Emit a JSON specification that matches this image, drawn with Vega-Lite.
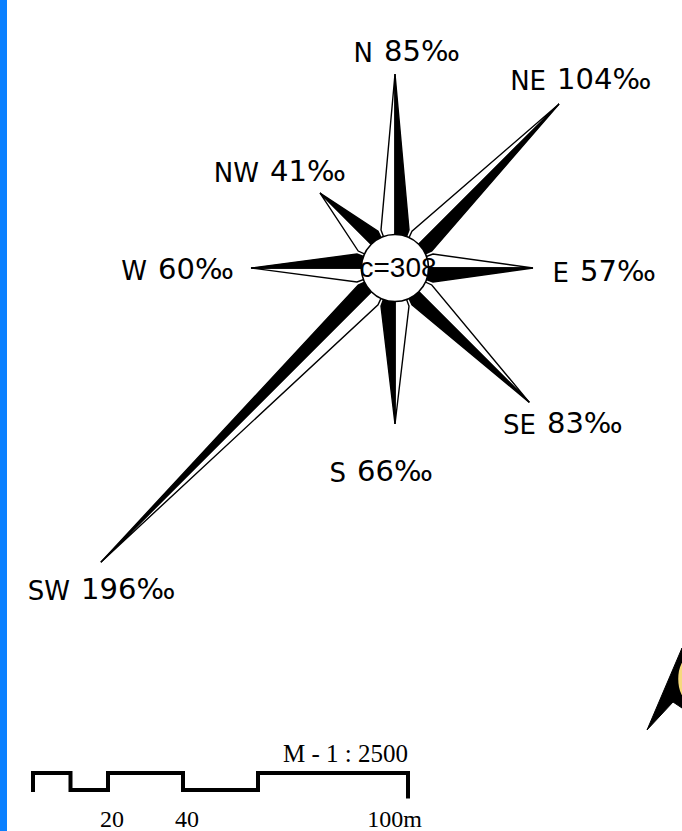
{
  "$schema": "https://vega.github.io/schema/vega-lite/v6.json",
  "width": 675,
  "height": 831,
  "autosize": {"type": "none"},
  "padding": {"left": 7, "top": 0, "right": 0, "bottom": 0},
  "background": "#0a80ff",
  "config": {"view": {"stroke": null, "fill": "white"}},
  "datasets": {
    "rose": [
      {"dir": "N", "angle": 0, "value": 85},
      {"dir": "NE", "angle": 45, "value": 104},
      {"dir": "E", "angle": 90, "value": 57},
      {"dir": "SE", "angle": 135, "value": 83},
      {"dir": "S", "angle": 180, "value": 66},
      {"dir": "SW", "angle": 225, "value": 196},
      {"dir": "W", "angle": 270, "value": 60},
      {"dir": "NW", "angle": 315, "value": 41}
    ],
    "center": [{"count": 308}],
    "arrow": [
      {"i": 0, "x": 126, "y": -231},
      {"i": 1, "x": 143.5, "y": -190},
      {"i": 2, "x": 143.5, "y": -220},
      {"i": 3, "x": 139, "y": -217}
    ],
    "bar": [
      {"i": 0, "m": 0, "h": -0.12},
      {"i": 1, "m": 0, "h": 1},
      {"i": 2, "m": 10, "h": 1},
      {"i": 3, "m": 10, "h": 0},
      {"i": 4, "m": 20, "h": 0},
      {"i": 5, "m": 20, "h": 1},
      {"i": 6, "m": 40, "h": 1},
      {"i": 7, "m": 40, "h": 0},
      {"i": 8, "m": 60, "h": 0},
      {"i": 9, "m": 60, "h": 1},
      {"i": 10, "m": 100, "h": 1},
      {"i": 11, "m": 100, "h": -0.5}
    ],
    "ticks": [
      {"m": 20, "t": "20"},
      {"m": 40, "t": "40"}
    ]
  },
  "layer": [
    {
      "layer": [
        {
          "data": {"name": "rose"},
          "transform": [
            {"calculate": "datum.angle*PI/180", "as": "a"},
            {"calculate": "datum.value+12", "as": "r"},
            {"calculate": "[{k:0,s:1},{k:1,s:1},{k:2,s:1},{k:0,s:-1},{k:1,s:-1},{k:2,s:-1}]", "as": "pts"},
            {"flatten": ["pts"]},
            {"calculate": "datum.pts.k", "as": "k"},
            {"calculate": "datum.pts.s", "as": "s"},
            {"calculate": "datum.k==0 ? datum.r*sin(datum.a) : (datum.k==1 ? 19*sin(datum.a)+datum.s*7*cos(datum.a) : 0)", "as": "px"},
            {"calculate": "datum.k==0 ? datum.r*cos(datum.a) : (datum.k==1 ? 19*cos(datum.a)-datum.s*7*sin(datum.a) : 0)", "as": "py"},
            {"calculate": "datum.dir+'_'+datum.s", "as": "grp"}
          ],
          "layer": [
            {
              "transform": [{"filter": "datum.s == -1"}],
              "mark": {"type": "line", "interpolate": "linear-closed", "fill": "white", "stroke": "black", "strokeWidth": 1.4},
              "encoding": {
                "x": {"field": "px", "type": "quantitative", "scale": {"domain": [-194, 143.5], "nice": false, "zero": false}, "axis": null},
                "y": {"field": "py", "type": "quantitative", "scale": {"domain": [-281.5, 134], "nice": false, "zero": false}, "axis": null},
                "detail": {"field": "grp"},
                "order": {"field": "k"}
              }
            },
            {
              "transform": [{"filter": "datum.s == 1"}],
              "mark": {"type": "line", "interpolate": "linear-closed", "fill": "black", "stroke": "black", "strokeWidth": 1.4},
              "encoding": {
                "x": {"field": "px", "type": "quantitative", "scale": {"domain": [-194, 143.5], "nice": false, "zero": false}, "axis": null},
                "y": {"field": "py", "type": "quantitative", "scale": {"domain": [-281.5, 134], "nice": false, "zero": false}, "axis": null},
                "detail": {"field": "grp"},
                "order": {"field": "k"}
              }
            }
          ]
        },
        {
          "data": {"name": "center"},
          "transform": [{"calculate": "'c=' + datum.count", "as": "label"}],
          "layer": [
            {
              "mark": {"type": "point", "shape": "circle", "size": 4500, "filled": true, "fill": "white", "stroke": "black", "strokeWidth": 1.6, "opacity": 1},
              "encoding": {
                "x": {"datum": 0, "type": "quantitative"},
                "y": {"datum": 0, "type": "quantitative"}
              }
            },
            {
              "mark": {"type": "text", "font": "Liberation Sans", "fontSize": 28, "align": "center", "baseline": "middle", "dx": 3, "dy": 1, "color": "black"},
              "encoding": {
                "x": {"datum": 0, "type": "quantitative"},
                "y": {"datum": 0, "type": "quantitative"},
                "text": {"field": "label"}
              }
            }
          ]
        },
        {
          "data": {"name": "rose"},
          "transform": [
            {"calculate": "datum.angle*PI/180", "as": "a"},
            {"calculate": "datum.value+12", "as": "r"},
            {"calculate": "{'N':[-8,11],'NE':[-3.5,12],'E':[21,-2],'SE':[6.3,-10.8],'S':[-21.5,-24],'SW':[-12.4,-13.9],'W':[-49,-1],'NW':[-27.5,10.5]}[datum.dir]", "as": "off"},
            {"calculate": "datum.r*sin(datum.a)+datum.off[0]", "as": "lx"},
            {"calculate": "datum.r*cos(datum.a)+datum.off[1]", "as": "ly"},
            {"calculate": "datum.value + '‰'", "as": "vlabel"}
          ],
          "layer": [
            {
              "mark": {"type": "text", "font": "DejaVu Sans", "fontSize": 26, "align": "right", "baseline": "middle", "dx": -6, "dy": 2, "color": "black"},
              "encoding": {
                "x": {"field": "lx", "type": "quantitative"},
                "y": {"field": "ly", "type": "quantitative"},
                "text": {"field": "dir"}
              }
            },
            {
              "mark": {"type": "text", "font": "DejaVu Sans", "fontSize": 29, "align": "left", "baseline": "middle", "dx": 5, "color": "black"},
              "encoding": {
                "x": {"field": "lx", "type": "quantitative"},
                "y": {"field": "ly", "type": "quantitative"},
                "text": {"field": "vlabel"}
              }
            }
          ]
        },
        {
          "data": {"name": "arrow"},
          "mark": {"type": "line", "interpolate": "linear-closed", "fill": "black", "stroke": "black", "strokeWidth": 1},
          "encoding": {
            "x": {"field": "x", "type": "quantitative"},
            "y": {"field": "y", "type": "quantitative"},
            "order": {"field": "i"}
          }
        },
        {
          "data": {"name": "center"},
          "mark": {"type": "point", "shape": "M-0.5,0A0.5,1,0,1,1,0.5,0A0.5,1,0,1,1,-0.5,0Z", "size": 1936, "filled": true, "fill": "#f6d97c", "stroke": "black", "strokeWidth": 2.5, "opacity": 1},
          "encoding": {
            "x": {"datum": 146.5, "type": "quantitative"},
            "y": {"datum": -205.5, "type": "quantitative"}
          }
        }
      ]
    },
    {
      "layer": [
        {
          "data": {"name": "bar"},
          "mark": {"type": "line", "stroke": "black", "strokeWidth": 4, "strokeJoin": "miter", "strokeCap": "butt"},
          "encoding": {
            "x": {"field": "m", "type": "quantitative", "scale": {"domain": [-6.933, 173.067], "nice": false, "zero": false}, "axis": null},
            "y": {"field": "h", "type": "quantitative", "scale": {"domain": [-2.41, 46.47], "nice": false, "zero": false}, "axis": null},
            "order": {"field": "i"}
          }
        },
        {
          "data": {"name": "ticks"},
          "mark": {"type": "text", "font": "Liberation Serif", "fontSize": 24, "align": "center", "baseline": "alphabetic", "dx": 4, "color": "black"},
          "encoding": {
            "x": {"field": "m", "type": "quantitative"},
            "y": {"datum": -2.15, "type": "quantitative"},
            "text": {"field": "t"}
          }
        },
        {
          "data": {"name": "center"},
          "layer": [
            {
              "mark": {"type": "text", "font": "Liberation Serif", "fontSize": 24, "align": "right", "baseline": "alphabetic", "dx": 14, "color": "black", "text": "100m"},
              "encoding": {
                "x": {"datum": 100, "type": "quantitative"},
                "y": {"datum": -2.18, "type": "quantitative"}
              }
            },
            {
              "mark": {"type": "text", "font": "Liberation Serif", "fontSize": 25, "align": "right", "baseline": "alphabetic", "dx": 0, "color": "black", "text": "M - 1 : 2500"},
              "encoding": {
                "x": {"datum": 100, "type": "quantitative"},
                "y": {"datum": 1.65, "type": "quantitative"}
              }
            }
          ]
        }
      ]
    }
  ],
  "resolve": {"scale": {"x": "independent", "y": "independent"}}
}
